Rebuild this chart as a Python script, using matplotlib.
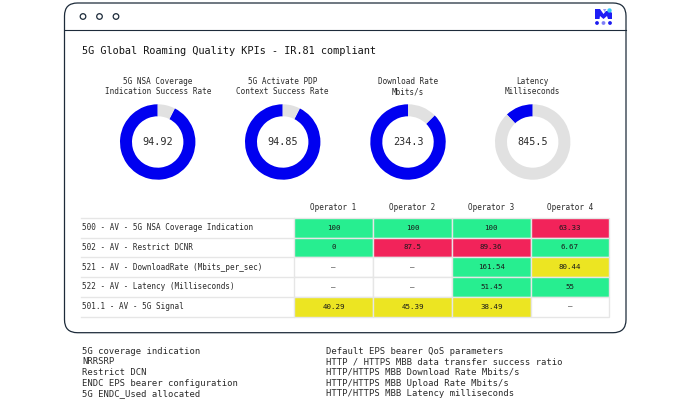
import matplotlib
matplotlib.use("Agg")
import matplotlib.pyplot as plt
from matplotlib.patches import FancyBboxPatch, Circle, Polygon, Rectangle

W, H = 690, 400
BLUE = "#0000f0"
GREY = "#e1e1e1"
GREEN = "#27ee90"
RED = "#f2235a"
YELLOW = "#ece522"
NAVY = "#1d2b3a"
LINE = "#e6e6e6"
TEXT = "#2a2a2a"

title = "5G Global Roaming Quality KPIs - IR.81 compliant"

# donuts
kpi_names = ["5G NSA Coverage\nIndication Success Rate",
             "5G Activate PDP\nContext Success Rate",
             "Download Rate\nMbits/s",
             "Latency\nMilliseconds"]
kpi_values = ["94.92", "94.85", "234.3", "845.5"]
kpi_filled = [92.5, 92.5, 87.5, 12]

# table
operators = ["Operator 1", "Operator 2", "Operator 3", "Operator 4"]
row_names = ["500 - AV - 5G NSA Coverage Indication",
             "502 - AV - Restrict DCNR",
             "521 - AV - DownloadRate (Mbits_per_sec)",
             "522 - AV - Latency (Milliseconds)",
             "501.1 - AV - 5G Signal"]
cell_text = [["100", "100", "100", "63.33"],
             ["0", "87.5", "89.36", "6.67"],
             ["–", "–", "161.54", "80.44"],
             ["–", "–", "51.45", "55"],
             ["40.29", "45.39", "38.49", "–"]]
cell_state = [["g", "g", "g", "r"],
              ["g", "r", "r", "g"],
              ["n", "n", "g", "y"],
              ["n", "n", "g", "g"],
              ["y", "y", "y", "n"]]

notes_left = ["5G coverage indication", "NRRSRP", "Restrict DCN",
              "ENDC EPS bearer configuration", "5G ENDC_Used allocated"]
notes_right = ["Default EPS bearer QoS parameters",
               "HTTP / HTTPS MBB data transfer success ratio",
               "HTTP/HTTPS MBB Download Rate Mbits/s",
               "HTTP/HTTPS MBB Upload Rate Mbits/s",
               "HTTP/HTTPS MBB Latency milliseconds"]

state_colors = {"g": GREEN, "r": RED, "y": YELLOW, "n": "white"}

plt.rcParams["font.family"] = ["DejaVu Sans Mono"]
fig = plt.figure(figsize=(W / 100, H / 100), dpi=100)
ax = fig.add_axes([0, 0, 1, 1])
ax.set_xlim(0, W)
ax.set_ylim(H, 0)
ax.axis("off")

# window frame
ax.add_patch(FancyBboxPatch((64.5, 3), 561.5, 329.7, boxstyle="round,pad=0,rounding_size=13",
                            fc="white", ec=NAVY, lw=0.9))
ax.plot([64.5, 626], [30, 30], color=NAVY, lw=0.8)
for x in [83, 99.5, 116]:
    ax.add_patch(Circle((x, 16.5), 2.8, fc="white", ec=NAVY, lw=0.9))

# logo
ax.add_patch(Polygon([(595, 9), (600, 9), (603.5, 14), (606, 11), (610, 11), (612, 13), (612, 19),
                      (608, 19), (607, 16), (603.5, 19), (600, 16), (599.5, 19), (595, 19)],
                     fc="#1e1ef5", ec="none"))
ax.add_patch(Polygon([(603, 9), (606.5, 9), (604.5, 12)], fc="#9a9af8", ec="none"))
ax.add_patch(Circle((609.5, 10.5), 2.2, fc="#35c8f5", ec="none"))
for x, c in zip([597, 603.5, 610], ["#1c1cf0", "#7f7ff7", "#1c1cf0"]):
    ax.add_patch(Circle((x, 23), 1.9, fc=c, ec="none"))

ax.text(82, 51, title, fontsize=7.35, va="center", ha="left", color="#151515")

# donuts
centers = [157.7, 282.7, 408, 532.7]
for cx, name, val, filled in zip(centers, kpi_names, kpi_values, kpi_filled):
    r = 37.7
    d_ax = fig.add_axes([(cx - r) / W, 1 - (142 + r) / H, 2 * r / W, 2 * r / H])
    d_ax.pie([filled, 100 - filled], colors=[BLUE, GREY], startangle=90, radius=1,
             wedgeprops={"width": 12 / 37.7, "linewidth": 0})
    d_ax.set_xlim(-1, 1)
    d_ax.set_ylim(-1, 1)
    d_ax.text(0, 0, val, ha="center", va="center", fontsize=7.3, color=TEXT)
    ax.text(cx, 86.5, name, ha="center", va="center", fontsize=5.5, color=TEXT, linespacing=1.25)

# table
col_edges = [294, 373, 452, 530.5, 609]
row_edges = [217.5, 237.5, 257.3, 277, 296.8, 316.5]
for i, op in enumerate(operators):
    ax.text((col_edges[i] + col_edges[i + 1]) / 2, 207, op, ha="center", va="center",
            fontsize=5.5, color=TEXT)
for j, name in enumerate(row_names):
    top, bottom = row_edges[j], row_edges[j + 1]
    ax.text(82, (top + bottom) / 2, name, ha="left", va="center", fontsize=5.5, color=TEXT)
    for i in range(len(operators)):
        ax.add_patch(Rectangle((col_edges[i], top), col_edges[i + 1] - col_edges[i], bottom - top,
                               fc=state_colors[cell_state[j][i]], ec=LINE, lw=1.0))
        ax.text((col_edges[i] + col_edges[i + 1]) / 2, (top + bottom) / 2, cell_text[j][i],
                ha="center", va="center", fontsize=5.4, color="#1a1a1a")
for y in row_edges:
    ax.plot([81, 294], [y, y], color=LINE, lw=1.0)

# notes under the window
note_ys = [351, 361.7, 372.4, 383, 393.7]
for y, left, right in zip(note_ys, notes_left, notes_right):
    ax.text(82, y, left, ha="left", va="center", fontsize=6.4, color=TEXT)
    ax.text(325.5, y, right, ha="left", va="center", fontsize=6.4, color=TEXT)

fig.savefig("out.png", dpi=100)
